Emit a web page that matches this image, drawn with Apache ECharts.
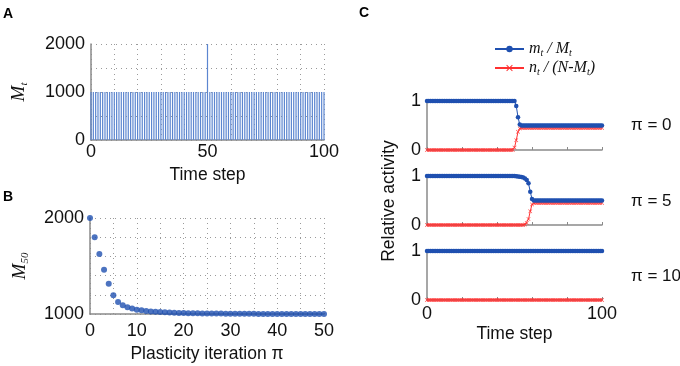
<!DOCTYPE html>
<html>
<head>
<meta charset="utf-8">
<script src="https://cdn.jsdelivr.net/npm/echarts@6/dist/echarts.min.js"></script>
<style>
  html, body { margin: 0; padding: 0; background: #fff; }
  #chart { width: 680px; height: 366px; }
</style>
</head>
<body>
<div id="chart"></div>
<script>
// panel A: M_t over time steps (one spike at t = 50)
const mtCounts = [
  1000,1000,1000,1000,1000,1000,1000,1000,1000,1000,1000,1000,1000,1000,1000,1000,1000,1000,1000,1000,
  1000,1000,1000,1000,1000,1000,1000,1000,1000,1000,1000,1000,1000,1000,1000,1000,1000,1000,1000,1000,
  1000,1000,1000,1000,1000,1000,1000,1000,1000,1000,2000,1000,1000,1000,1000,1000,1000,1000,1000,1000,
  1000,1000,1000,1000,1000,1000,1000,1000,1000,1000,1000,1000,1000,1000,1000,1000,1000,1000,1000,1000,
  1000,1000,1000,1000,1000,1000,1000,1000,1000,1000,1000,1000,1000,1000,1000,1000,1000,1000,1000,1000,
  1000
];

// panel B: M_50 per plasticity iteration
const m50 = [
  2000,1800,1625,1460,1315,1195,1125,1090,1070,1057,1045,1038,1032,1027,1023,1020,1017,1015,1013,1011,
  1010,1009,1008,1007,1006,1005,1005,1004,1004,1003,1003,1003,1002,1002,1002,1002,1001,1001,1001,1001,
  1001,1001,1001,1000,1000,1000,1000,1000,1000,1000,1000
];

// panel C: relative activity, pi = 0 / 5 / 10
const mRel0 = [
  1,1,1,1,1,1,1,1,1,1,1,1,1,1,1,1,1,1,1,1,
  1,1,1,1,1,1,1,1,1,1,1,1,1,1,1,1,1,1,1,1,
  1,1,1,1,1,1,1,1,1,1,1,0.9,0.67,0.52,0.5,0.5,0.5,0.5,0.5,0.5,
  0.5,0.5,0.5,0.5,0.5,0.5,0.5,0.5,0.5,0.5,0.5,0.5,0.5,0.5,0.5,0.5,0.5,0.5,0.5,0.5,
  0.5,0.5,0.5,0.5,0.5,0.5,0.5,0.5,0.5,0.5,0.5,0.5,0.5,0.5,0.5,0.5,0.5,0.5,0.5,0.5,
  0.5
];
const nRel0 = [
  0,0,0,0,0,0,0,0,0,0,0,0,0,0,0,0,0,0,0,0,
  0,0,0,0,0,0,0,0,0,0,0,0,0,0,0,0,0,0,0,0,
  0,0,0,0,0,0,0,0,0,0,0.05,0.2,0.37,0.44,0.45,0.45,0.45,0.45,0.45,0.45,
  0.45,0.45,0.45,0.45,0.45,0.45,0.45,0.45,0.45,0.45,0.45,0.45,0.45,0.45,0.45,0.45,0.45,0.45,0.45,0.45,
  0.45,0.45,0.45,0.45,0.45,0.45,0.45,0.45,0.45,0.45,0.45,0.45,0.45,0.45,0.45,0.45,0.45,0.45,0.45,0.45,
  0.45
];
const mRel5 = [
  1,1,1,1,1,1,1,1,1,1,1,1,1,1,1,1,1,1,1,1,
  1,1,1,1,1,1,1,1,1,1,1,1,1,1,1,1,1,1,1,1,
  1,1,1,1,1,1,1,1,1,1,1,0.995,0.99,0.985,0.98,0.97,0.95,0.92,0.85,0.68,
  0.53,0.5,0.5,0.5,0.5,0.5,0.5,0.5,0.5,0.5,0.5,0.5,0.5,0.5,0.5,0.5,0.5,0.5,0.5,0.5,
  0.5,0.5,0.5,0.5,0.5,0.5,0.5,0.5,0.5,0.5,0.5,0.5,0.5,0.5,0.5,0.5,0.5,0.5,0.5,0.5,
  0.5
];
const nRel5 = [
  0,0,0,0,0,0,0,0,0,0,0,0,0,0,0,0,0,0,0,0,
  0,0,0,0,0,0,0,0,0,0,0,0,0,0,0,0,0,0,0,0,
  0,0,0,0,0,0,0,0,0,0,0,0,0,0,0,0,0.01,0.04,0.12,0.28,
  0.42,0.45,0.45,0.45,0.45,0.45,0.45,0.45,0.45,0.45,0.45,0.45,0.45,0.45,0.45,0.45,0.45,0.45,0.45,0.45,
  0.45,0.45,0.45,0.45,0.45,0.45,0.45,0.45,0.45,0.45,0.45,0.45,0.45,0.45,0.45,0.45,0.45,0.45,0.45,0.45,
  0.45
];
const mRel10 = [
  1,1,1,1,1,1,1,1,1,1,1,1,1,1,1,1,1,1,1,1,
  1,1,1,1,1,1,1,1,1,1,1,1,1,1,1,1,1,1,1,1,
  1,1,1,1,1,1,1,1,1,1,1,1,1,1,1,1,1,1,1,1,
  1,1,1,1,1,1,1,1,1,1,1,1,1,1,1,1,1,1,1,1,
  1,1,1,1,1,1,1,1,1,1,1,1,1,1,1,1,1,1,1,1,
  1
];
const nRel10 = [
  0,0,0,0,0,0,0,0,0,0,0,0,0,0,0,0,0,0,0,0,
  0,0,0,0,0,0,0,0,0,0,0,0,0,0,0,0,0,0,0,0,
  0,0,0,0,0,0,0,0,0,0,0,0,0,0,0,0,0,0,0,0,
  0,0,0,0,0,0,0,0,0,0,0,0,0,0,0,0,0,0,0,0,
  0,0,0,0,0,0,0,0,0,0,0,0,0,0,0,0,0,0,0,0,
  0
];
const piLabels = ['π = 0', 'π = 5', 'π = 10'];

const BLUE = '#1f50b0';
const RED = '#ff3030';
const AXIS = '#8a8a8a';
const SANS = 'Liberation Sans, Arial, sans-serif';
const SERIF = 'Liberation Serif, Times New Roman, serif';
const crossPath = 'path://M0,1L1,0L5,4L9,0L10,1L6,5L10,9L9,10L5,6L1,10L0,9L4,5Z';

const pairs = (arr) => arr.map((v, i) => [i, v]);

const dotted = { show: true, lineStyle: { color: '#9a9a9a', type: [1, 4], width: 1 } };
const tickLbl = { color: '#111', fontSize: 18, fontFamily: SANS };
const axLine = { show: true, lineStyle: { color: AXIS, width: 1.5 } };
const mathRich = {
  i: { fontFamily: SERIF, fontStyle: 'italic', fontSize: 19, lineHeight: 20, color: '#111' },
  s: { fontFamily: SERIF, fontStyle: 'italic', fontSize: 11, lineHeight: 10, padding: [10, 0, 0, 0], color: '#111' }
};

// panel C grids
const cTops = [101, 176, 251];

const chart = echarts.init(document.getElementById('chart'));

const grids = [
  { left: 91, top: 44, width: 233, height: 96 },
  { left: 90, top: 218, width: 234, height: 96 }
].concat(cTops.map(t => ({ left: 427, top: t, width: 175, height: 49 })));

const xAxes = [
  {
    gridIndex: 0, type: 'value', min: 0, max: 100, interval: 10,
    axisLine: axLine, axisTick: { show: false }, splitLine: dotted,
    axisLabel: Object.assign({ margin: 3, formatter: v => (v % 50 === 0 ? v : '') }, tickLbl),
    name: 'Time step', nameLocation: 'middle', nameGap: 26,
    nameTextStyle: { color: '#111', fontSize: 17.5, fontFamily: SANS }
  },
  {
    gridIndex: 1, type: 'value', min: 0, max: 50, interval: 5,
    axisLine: axLine, axisTick: { show: false }, splitLine: dotted,
    axisLabel: Object.assign({ margin: 8, formatter: v => (v % 10 === 0 ? v : '') }, tickLbl),
    name: 'Plasticity iteration π', nameLocation: 'middle', nameGap: 31,
    nameTextStyle: { color: '#111', fontSize: 17.5, fontFamily: SANS }
  }
].concat(cTops.map((t, k) => ({
  gridIndex: k + 2, type: 'value', min: 0, max: 100, interval: 20,
  axisLine: axLine, splitLine: { show: false },
  axisTick: { show: true, inside: true, length: 3, lineStyle: { color: AXIS } },
  axisLabel: Object.assign({ show: k === 2, margin: 5, formatter: v => (v % 100 === 0 ? v : '') }, tickLbl),
  name: k === 2 ? 'Time step' : '', nameLocation: 'middle', nameGap: 25,
  nameTextStyle: { color: '#111', fontSize: 17.5, fontFamily: SANS }
})));

const yAxes = [
  {
    gridIndex: 0, type: 'value', min: 0, max: 2000, interval: 500,
    axisLine: axLine, axisTick: { show: false }, splitLine: dotted,
    axisLabel: Object.assign({ margin: 6, formatter: v => (v % 1000 === 0 ? v : '') }, tickLbl),
    name: '{i|M}{s|t}', nameLocation: 'middle', nameGap: 62, nameRotate: 90,
    nameTextStyle: { rich: mathRich }
  },
  {
    gridIndex: 1, type: 'value', min: 1000, max: 2000, interval: 200,
    axisLine: axLine, axisTick: { show: false }, splitLine: dotted,
    axisLabel: Object.assign({ margin: 6, formatter: v => (v % 1000 === 0 ? v : '') }, tickLbl),
    name: '{i|M}{s|50}', nameLocation: 'middle', nameGap: 60, nameRotate: 90,
    nameTextStyle: { rich: mathRich }
  }
].concat(cTops.map((t, k) => ({
  gridIndex: k + 2, type: 'value', min: 0, max: 1, interval: 1,
  axisLine: axLine, axisTick: { show: false }, splitLine: { show: false },
  axisLabel: Object.assign({ margin: 6 }, tickLbl)
})));

const cSeries = [[mRel0, nRel0], [mRel5, nRel5], [mRel10, nRel10]];
const series = [
  {
    type: 'bar', xAxisIndex: 0, yAxisIndex: 0, data: pairs(mtCounts),
    barWidth: 1.2, itemStyle: { color: '#5c86d0' }, silent: true
  },
  {
    type: 'scatter', xAxisIndex: 1, yAxisIndex: 1, data: pairs(m50),
    symbolSize: 6, itemStyle: { color: BLUE }
  }
];
cSeries.forEach(([m, n], k) => {
  series.push({
    name: 'n', type: 'line', xAxisIndex: k + 2, yAxisIndex: k + 2, data: pairs(n),
    symbol: crossPath, symbolSize: 4, showAllSymbol: true,
    lineStyle: { color: RED, width: 1 }, itemStyle: { color: RED }, z: 2
  });
  series.push({
    name: 'm', type: 'line', xAxisIndex: k + 2, yAxisIndex: k + 2, data: pairs(m),
    symbol: 'circle', symbolSize: 4.5, showAllSymbol: true,
    lineStyle: { color: BLUE, width: 1 }, itemStyle: { color: BLUE }, z: 3
  });
});

const legendRich = {
  i: { fontFamily: SERIF, fontStyle: 'italic', fontSize: 16, lineHeight: 16, color: '#111' },
  s: { fontFamily: SERIF, fontStyle: 'italic', fontSize: 10, lineHeight: 8, padding: [8, 0, 0, 0], color: '#111' }
};

chart.setOption({
  animation: false,
  backgroundColor: '#fff',
  grid: grids,
  xAxis: xAxes,
  yAxis: yAxes,
  series: series,
  legend: {
    data: ['m', 'n'], orient: 'vertical', left: 494, top: 40, padding: 0,
    itemWidth: 29, itemHeight: 8, itemGap: 1, selectedMode: false,
    formatter: name => (name === 'm'
      ? '{i|m}{s|t}{i| / M}{s|t}'
      : '{i|n}{s|t}{i| / (N-M}{s|t}{i|)}'),
    textStyle: { rich: legendRich }
  },
  graphic: [
    { type: 'text', left: 3, top: 7, style: { text: 'A', font: 'bold 14px ' + SANS, fill: '#000' } },
    { type: 'text', left: 3, top: 190, style: { text: 'B', font: 'bold 14px ' + SANS, fill: '#000' } },
    { type: 'text', left: 359, top: 6, style: { text: 'C', font: 'bold 14px ' + SANS, fill: '#000' } },
    {
      type: 'text', x: 389, y: 201, rotation: Math.PI / 2,
      style: { text: 'Relative activity', font: '17.5px ' + SANS, fill: '#111', align: 'center', verticalAlign: 'middle' }
    }
  ].concat(piLabels.map((s, k) => ({
    type: 'text', x: 631, y: [125, 201, 276][k],
    style: { text: s, font: '17px ' + SANS, fill: '#111', align: 'left', verticalAlign: 'middle' }
  })))
});
</script>
</body>
</html>
